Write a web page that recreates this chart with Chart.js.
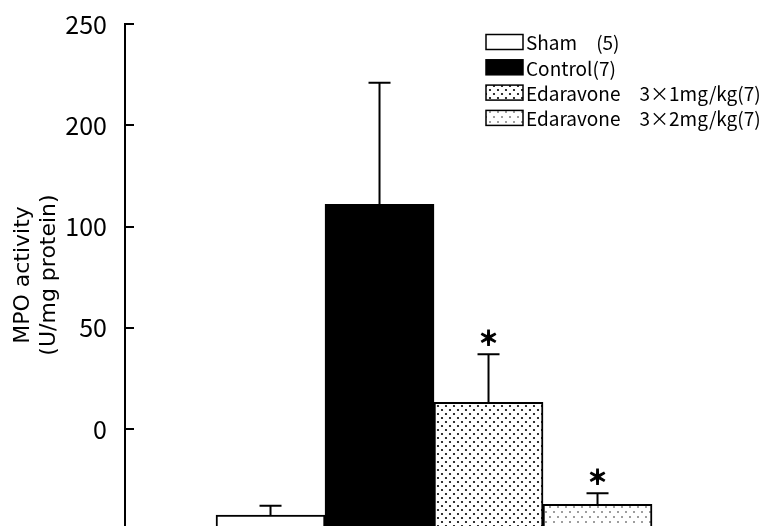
<!DOCTYPE html>
<html>
<head>
<meta charset="utf-8">
<script src="https://cdn.jsdelivr.net/npm/chart.js@4.4.0/dist/chart.umd.min.js"></script>
<style>
  html, body { margin: 0; padding: 0; background: #fff; }
  #wrap { width: 762px; height: 526px; }
</style>
</head>
<body>
<div id="wrap"><canvas id="mpoChart"></canvas></div>
<script>
// values in axis units (the axis steps evenly but is labelled 0,50,100,200,250)
const groups = ['Sham\u3000(5)', 'Control(7)', 'Edaravone\u30003\u00d71mg/kg(7)', 'Edaravone\u30003\u00d72mg/kg(7)'];
const groupPos = [1, 2, 3, 4];
const mpoMean = [-42.4, 111, 13.3, -37.1];
const mpoSem = [4.6, 60, 23.7, 5.5];
const sigMarks = ['', '', '\uff0a', '\uff0a'];
const tickValues = [0, 50, 100, 150, 200];
const tickLabels = ['0', '50', '100', '200', '250'];

const JP = '"Noto Sans CJK JP", "Noto Sans", sans-serif';

function dotPattern(w, h, dots, r, color) {
  const c = document.createElement('canvas');
  c.width = w; c.height = h;
  const g = c.getContext('2d');
  g.fillStyle = '#fff';
  g.fillRect(0, 0, w, h);
  g.fillStyle = color;
  dots.forEach(([x, y]) => { g.beginPath(); g.arc(x, y, r, 0, Math.PI * 2); g.fill(); });
  return g.createPattern(c, 'repeat');
}

const ctx = document.getElementById('mpoChart');
const patDense = dotPattern(8, 8, [[2, 2], [6, 6]], 1.1, '#000');
const patLight = dotPattern(8, 10, [[2, 2], [6, 7]], 0.8, '#222');
const fills = ['#ffffff', '#000000', patDense, patLight];

// error bars + significance marks
const errorBars = {
  id: 'errorBars',
  afterDatasetsDraw(chart) {
    const { ctx, scales: { y } } = chart;
    const meta = chart.getDatasetMeta(0);
    ctx.save();
    ctx.strokeStyle = '#000';
    ctx.lineWidth = 2;
    meta.data.forEach((bar, i) => {
      const top = y.getPixelForValue(mpoMean[i] + mpoSem[i]);
      ctx.beginPath();
      ctx.moveTo(bar.x, bar.y);
      ctx.lineTo(bar.x, top);
      ctx.moveTo(bar.x - 11, top);
      ctx.lineTo(bar.x + 11, top);
      ctx.stroke();
      if (sigMarks[i]) {
        ctx.fillStyle = '#000';
        ctx.font = 'bold 20px ' + JP;
        ctx.textAlign = 'center';
        ctx.textBaseline = 'middle';
        ctx.lineWidth = 1.2;
        ctx.fillText(sigMarks[i], bar.x, top - 16);
        ctx.strokeText(sigMarks[i], bar.x, top - 16);
        ctx.lineWidth = 2;
      }
    });
    ctx.restore();
  }
};

// tick marks pointing into the plot
const innerTicks = {
  id: 'innerTicks',
  afterDraw(chart) {
    const { ctx, chartArea, scales: { y } } = chart;
    ctx.save();
    ctx.strokeStyle = '#000';
    ctx.lineWidth = 2;
    y.ticks.forEach(t => {
      const py = Math.round(y.getPixelForValue(t.value));
      ctx.beginPath();
      ctx.moveTo(chartArea.left, py);
      ctx.lineTo(chartArea.left + 9, py);
      ctx.stroke();
    });
    ctx.restore();
  }
};

// legend in the top right corner
const boxLegend = {
  id: 'boxLegend',
  afterDraw(chart) {
    const ctx = chart.ctx;
    ctx.save();
    ctx.font = '19px ' + JP;
    ctx.textBaseline = 'middle';
    ctx.textAlign = 'left';
    groups.forEach((g, i) => {
      const yc = 42 + i * 25.3;
      ctx.fillStyle = fills[i];
      ctx.fillRect(486, yc - 7.5, 37, 15);
      ctx.strokeStyle = '#000';
      ctx.lineWidth = 1.5;
      ctx.strokeRect(486, yc - 7.5, 37, 15);
      ctx.fillStyle = '#000';
      ctx.fillText(g, 526, yc + 1);
    });
    ctx.restore();
  }
};

new Chart(ctx, {
  type: 'bar',
  data: {
    datasets: [{
      data: groupPos.map((x, i) => ({ x, y: mpoMean[i] })),
      backgroundColor: fills,
      borderColor: '#000',
      borderWidth: 2,
      base: -80,
      barPercentage: 1,
      categoryPercentage: 1
    }]
  },
  options: {
    responsive: true,
    maintainAspectRatio: false,
    animation: false,
    layout: { padding: { top: 24, right: 0, bottom: 0, left: 0 } },
    plugins: { legend: { display: false }, tooltip: { enabled: false } },
    scales: {
      x: {
        type: 'linear',
        display: false,
        offset: false,
        min: -0.335,
        max: 5.509,
        grid: { offset: false },
        ticks: { stepSize: 1, includeBounds: false }
      },
      y: {
        min: -47.8,
        max: 200,
        afterFit: s => { s.width = 125; s.paddingTop = 0; s.paddingBottom = 0; },
        afterBuildTicks: s => { s.ticks = tickValues.map(v => ({ value: v })); },
        grid: { display: false },
        border: { display: true, color: '#000', width: 2 },
        ticks: {
          color: '#000',
          padding: 10,
          font: { family: JP, size: 25 },
          callback: v => tickLabels[tickValues.indexOf(v)]
        },
        title: {
          display: true,
          text: ['MPO activity', '(U/mg protein)'],
          color: '#000',
          padding: { top: 11, bottom: 0 },
          font: { family: '"DejaVu Sans", sans-serif', size: 22, lineHeight: 1.15 }
        }
      }
    }
  },
  plugins: [errorBars, innerTicks, boxLegend]
});
</script>
</body>
</html>
